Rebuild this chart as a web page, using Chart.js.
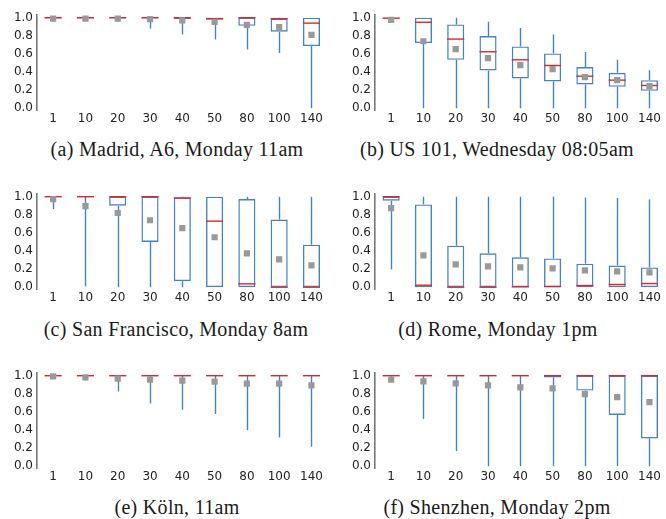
<!DOCTYPE html>
<html>
<head>
<meta charset="utf-8">
<script src="https://cdn.jsdelivr.net/npm/chart.js@4/dist/chart.umd.min.js"></script>
<style>
  body { margin: 0; width: 666px; height: 519px; overflow: hidden; background: #fff; position: relative; }
  canvas { position: absolute; }
  .cap { position: absolute; width: 330px; text-align: center; font-family: "Liberation Serif", serif; font-size: 20px; letter-spacing: 0.3px; color: #1a1a1a; white-space: nowrap; }
</style>
</head>
<body>
<canvas id="c0" width="332" height="130" style="left:0;top:0"></canvas>
<canvas id="c1" width="332" height="130" style="left:338px;top:0"></canvas>
<canvas id="c2" width="332" height="130" style="left:0;top:179px"></canvas>
<canvas id="c3" width="332" height="130" style="left:338px;top:179px"></canvas>
<canvas id="c4" width="332" height="130" style="left:0;top:358px"></canvas>
<canvas id="c5" width="332" height="130" style="left:338px;top:358px"></canvas>

<div class="cap" style="left:12px;top:138px">(a) Madrid, A6, Monday 11am</div>
<div class="cap" style="left:332px;top:138px">(b) US 101, Wednesday 08:05am</div>
<div class="cap" style="left:11px;top:318px">(c) San Francisco, Monday 8am</div>
<div class="cap" style="left:333px;top:318px">(d) Rome, Monday 1pm</div>
<div class="cap" style="left:12px;top:496px">(e) Köln, 11am</div>
<div class="cap" style="left:332px;top:496px">(f) Shenzhen, Monday 2pm</div>

<script>
// categories and ticks
const categories = ['1', '10', '20', '30', '40', '50', '80', '100', '140'];
const yTicks = [0, 0.2, 0.4, 0.6, 0.8, 1.0];

// (a) Madrid
const aMin  = [0.98, 0.98, 0.955, 0.88, 0.815, 0.76, 0.65, 0.61, 0.0];
const aQ1   = [0.99, 0.99, 0.99, 0.99, 0.985, 0.978, 0.91, 0.845, 0.686];
const aMed  = [1.0, 1.0, 1.0, 1.0, 1.0, 0.99, 1.0, 0.99, 0.94];
const aQ3   = [1.0, 1.0, 1.0, 1.0, 1.0, 1.0, 1.0, 0.99, 1.0];
const aMax  = [1.0, 1.0, 1.0, 1.0, 1.0, 1.0, 1.0, 1.0, 1.0];
const aMean = [0.99, 0.99, 0.99, 0.985, 0.97, 0.955, 0.92, 0.895, 0.81];

// (b) US 101
const bMin  = [0.99, 0.0, 0.0, 0.0, 0.0, 0.0, 0.0, 0.0, 0.0];
const bQ1   = [0.99, 0.72, 0.535, 0.417, 0.328, 0.295, 0.262, 0.236, 0.192];
const bMed  = [0.995, 0.95, 0.764, 0.624, 0.535, 0.472, 0.354, 0.31, 0.251];
const bQ3   = [1.0, 1.0, 0.926, 0.797, 0.683, 0.605, 0.454, 0.391, 0.31];
const bMax  = [1.0, 1.0, 1.0, 0.956, 0.886, 0.815, 0.62, 0.535, 0.42];
const bMean = [0.975, 0.74, 0.653, 0.553, 0.476, 0.432, 0.343, 0.31, 0.244];

// (c) San Francisco
const cMin  = [0.863, 0.01, 0.0, 0.0, 0.0, 0.0, 0.0, 0.0, 0.0];
const cQ1   = [1.0, 1.0, 0.9, 0.5, 0.067, 0.0, 0.0, 0.0, 0.0];
const cMed  = [1.0, 1.0, 1.0, 1.0, 0.985, 0.73, 0.037, 0.0, 0.0];
const cQ3   = [1.0, 1.0, 1.0, 1.0, 0.993, 1.0, 0.974, 0.748, 0.47];
const cMax  = [1.0, 1.0, 1.0, 1.0, 1.0, 1.0, 1.0, 1.0, 1.0];
const cMean = [0.974, 0.896, 0.82, 0.74, 0.652, 0.552, 0.374, 0.307, 0.24];

// (d) Rome
const dMin  = [0.196, 0.0, 0.0, 0.0, 0.0, 0.0, 0.0, 0.0, 0.0];
const dQ1   = [0.956, 0.0, 0.0, 0.0, 0.0, 0.0, 0.0, 0.0, 0.0];
const dMed  = [1.0, 0.022, 0.0, 0.0, 0.004, 0.007, 0.018, 0.03, 0.04];
const dQ3   = [1.0, 0.915, 0.459, 0.374, 0.33, 0.318, 0.26, 0.24, 0.218];
const dMax  = [1.0, 1.0, 1.0, 1.0, 1.0, 1.0, 0.99, 0.985, 0.97];
const dMean = [0.874, 0.352, 0.252, 0.23, 0.218, 0.207, 0.185, 0.174, 0.163];

// (e) Köln
const eMin  = [0.99, 0.95, 0.825, 0.693, 0.624, 0.577, 0.398, 0.318, 0.215];
const eQ1   = [1.0, 1.0, 1.0, 1.0, 1.0, 1.0, 1.0, 1.0, 1.0];
const eMed  = [1.0, 1.0, 1.0, 1.0, 1.0, 1.0, 1.0, 1.0, 1.0];
const eQ3   = [1.0, 1.0, 1.0, 1.0, 1.0, 1.0, 1.0, 1.0, 1.0];
const eMax  = [1.0, 1.0, 1.0, 1.0, 1.0, 1.0, 1.0, 1.0, 1.0];
const eMean = [0.993, 0.982, 0.967, 0.956, 0.945, 0.934, 0.912, 0.912, 0.894];

// (f) Shenzhen
const fMin  = [0.99, 0.522, 0.168, 0.0, 0.0, 0.0, 0.0, 0.0, 0.0];
const fQ1   = [1.0, 1.0, 1.0, 1.0, 1.0, 0.98, 0.836, 0.566, 0.307];
const fMed  = [1.0, 1.0, 1.0, 1.0, 1.0, 1.0, 1.0, 1.0, 1.0];
const fQ3   = [1.0, 1.0, 1.0, 1.0, 1.0, 1.0, 1.0, 1.0, 1.0];
const fMax  = [1.0, 1.0, 1.0, 1.0, 1.0, 1.0, 1.0, 1.0, 1.0];
const fMean = [0.956, 0.938, 0.916, 0.894, 0.872, 0.861, 0.796, 0.763, 0.708];

const panels = [
  [aMin, aQ1, aMed, aQ3, aMax, aMean],
  [bMin, bQ1, bMed, bQ3, bMax, bMean],
  [cMin, cQ1, cMed, cQ3, cMax, cMean],
  [dMin, dQ1, dMed, dQ3, dMax, dMean],
  [eMin, eQ1, eMed, eQ3, eMax, eMean],
  [fMin, fQ1, fMed, fQ3, fMax, fMean]
];

const BLUE = '#4383c4';
const RED = '#e0252b';

// whiskers + medians, drawn right after the boxes
const boxExtras = {
  id: 'boxExtras',
  afterDatasetDraw(chart, args, opts) {
    if (args.index !== 0) return;
    const p = opts.panel;
    const y = chart.scales.y;
    const ctx = chart.ctx;
    const bars = args.meta.data;
    ctx.save();
    ctx.lineWidth = 1.4;
    bars.forEach((bar, i) => {
      const x = Math.round(bar.x) + 0.5;
      ctx.strokeStyle = BLUE;
      ctx.beginPath();
      ctx.moveTo(x, y.getPixelForValue(p[0][i]));
      ctx.lineTo(x, y.getPixelForValue(p[1][i]));
      ctx.moveTo(x, y.getPixelForValue(p[3][i]));
      ctx.lineTo(x, y.getPixelForValue(p[4][i]));
      ctx.stroke();
      const ym = y.getPixelForValue(p[2][i]);
      ctx.strokeStyle = RED;
      ctx.beginPath();
      ctx.moveTo(bar.x - bar.width / 2, ym);
      ctx.lineTo(bar.x + bar.width / 2, ym);
      ctx.stroke();
    });
    ctx.restore();
  }
};

function makeChart(id, p) {
  new Chart(document.getElementById(id), {
    data: {
      labels: categories,
      datasets: [
        {
          type: 'bar',
          data: p[1].map((q1, i) => [q1, p[3][i]]),
          backgroundColor: 'rgba(0,0,0,0)',
          borderColor: BLUE,
          borderWidth: 1.4,
          borderSkipped: false,
          barPercentage: 0.53,
          categoryPercentage: 1.0,
          order: 2
        },
        {
          type: 'line',
          data: p[5],
          showLine: false,
          pointStyle: 'rect',
          pointRadius: 4.4,
          pointBackgroundColor: '#999999',
          pointBorderWidth: 0,
          order: 0
        }
      ]
    },
    options: {
      responsive: false,
      animation: false,
      events: [],
      layout: { padding: { top: 15, right: 0, left: 0, bottom: 0 } },
      plugins: {
        legend: { display: false },
        tooltip: { enabled: false },
        boxExtras: { panel: p }
      },
      scales: {
        x: {
          grid: { display: false, drawTicks: false },
          border: { display: false },
          ticks: { color: '#222', font: { family: 'DejaVu Sans', size: 12 }, padding: 2, maxRotation: 0 },
          afterFit(s) { s.height = 20; }
        },
        y: {
          min: -0.02,
          max: 1.03,
          grid: { display: false, drawTicks: false },
          border: { display: true, color: '#777', width: 1.6 },
          afterBuildTicks(s) { s.ticks = yTicks.map(v => ({ value: v })); },
          ticks: {
            color: '#222',
            font: { family: 'DejaVu Sans', size: 12 },
            padding: 4,
            callback: v => v.toFixed(1)
          },
          afterFit(s) { s.width = 37; }
        }
      }
    },
    plugins: [boxExtras]
  });
}

panels.forEach((p, i) => makeChart('c' + i, p));
</script>
</body>
</html>
